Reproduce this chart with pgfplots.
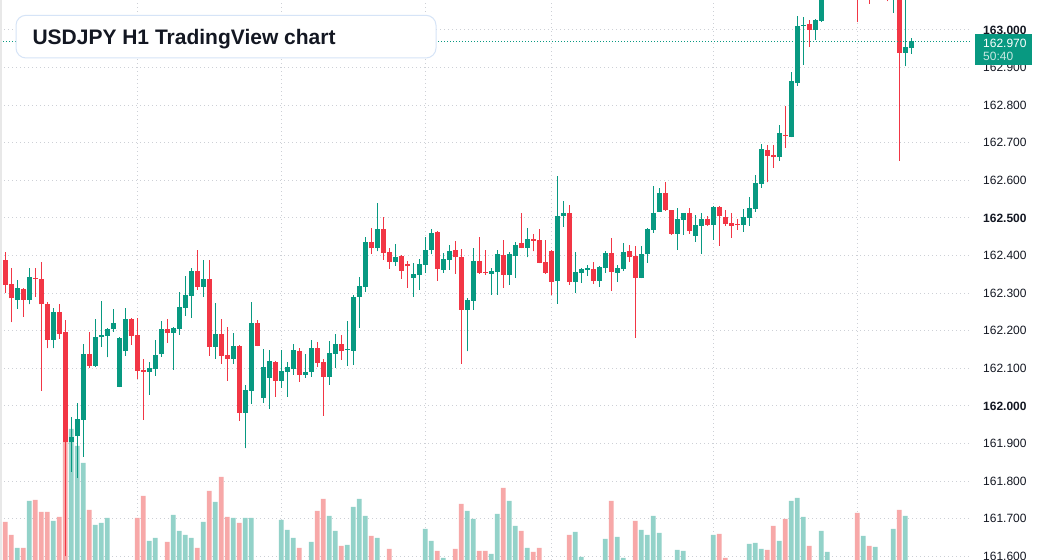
\documentclass[border=0pt]{standalone}
\usepackage{pgfplots}
\pgfplotsset{compat=1.18}
\usepackage{pgfplotstable}
\usepackage{fontspec}
\setmainfont{Liberation Sans}
\definecolor{tvgreen}{HTML}{089981}
\definecolor{tvred}{HTML}{F23645}
\definecolor{volgreen}{HTML}{93D2C9}
\definecolor{volred}{HTML}{F7A8A8}
\definecolor{gridc}{HTML}{CDD0D6}
\definecolor{txt}{HTML}{131722}
\definecolor{boxb}{HTML}{D6E4F7}

% candles: x = bar index, o h l c
\pgfplotstableread{
x o h l c
2 162.282 162.335 162.259 162.314
4 162.283 162.367 162.270 162.343
8 162.176 162.261 162.153 162.250
11 161.903 161.971 161.825 161.918
12 161.921 162.008 161.809 161.965
13 161.964 162.165 161.865 162.138
15 162.107 162.231 162.105 162.184
16 162.183 162.279 162.158 162.189
17 162.187 162.207 162.129 162.205
18 162.206 162.258 162.198 162.221
19 162.051 162.184 162.050 162.181
20 162.145 162.261 162.134 162.231
24 162.091 162.117 162.030 162.101
25 162.099 162.176 162.081 162.136
26 162.137 162.226 162.131 162.205
28 162.195 162.210 162.097 162.207
29 162.205 162.303 162.190 162.263
30 162.261 162.346 162.240 162.295
31 162.293 162.367 162.235 162.359
33 162.317 162.388 162.290 162.338
35 162.158 162.274 162.126 162.192
38 162.126 162.194 162.113 162.160
40 161.982 162.056 161.887 162.043
41 162.041 162.277 162.006 162.221
43 162.022 162.152 162.009 162.105
44 162.075 162.149 161.993 162.120
46 162.067 162.149 162.049 162.094
47 162.091 162.118 162.025 162.105
48 162.099 162.165 162.083 162.149
50 162.083 162.139 162.075 162.090
51 162.091 162.176 162.078 162.154
54 162.078 162.173 162.057 162.141
55 162.139 162.192 162.102 162.165
57 162.149 162.226 162.107 162.152
58 162.147 162.295 162.110 162.290
59 162.291 162.343 162.208 162.319
60 162.317 162.450 162.304 162.436
62 162.419 162.540 162.411 162.471
65 162.384 162.431 162.373 162.396
68 162.341 162.380 162.291 162.351
69 162.349 162.391 162.309 162.378
70 162.376 162.450 162.355 162.415
71 162.416 162.471 162.403 162.460
73 162.363 162.407 162.355 162.391
74 162.389 162.428 162.363 162.412
77 162.256 162.287 162.145 162.282
78 162.280 162.420 162.256 162.386
81 162.352 162.367 162.296 162.360
82 162.357 162.415 162.296 162.404
84 162.349 162.410 162.323 162.404
85 162.400 162.436 162.341 162.428
87 162.421 162.473 162.395 162.444
92 162.333 162.612 162.272 162.505
93 162.504 162.545 162.477 162.513
95 162.331 162.410 162.301 162.356
96 162.355 162.368 162.328 162.364
97 162.363 162.375 162.347 162.364
99 162.333 162.372 162.317 162.370
100 162.368 162.412 162.355 162.407
102 162.355 162.376 162.331 162.367
103 162.365 162.434 162.360 162.410
106 162.341 162.426 162.340 162.404
107 162.403 162.473 162.381 162.471
108 162.469 162.585 162.461 162.513
109 162.517 162.580 162.516 162.567
112 162.458 162.527 162.416 162.497
113 162.496 162.514 162.456 162.513
115 162.453 162.508 162.437 162.481
116 162.480 162.513 162.405 162.497
118 162.482 162.532 162.442 162.529
123 162.482 162.524 162.464 162.503
124 162.501 162.556 162.480 162.527
125 162.524 162.614 162.517 162.593
126 162.591 162.697 162.581 162.684
129 162.661 162.747 162.652 162.726
131 162.716 162.888 162.715 162.864
132 162.860 163.037 162.852 163.010
133 163.011 163.034 162.908 163.013
135 163.001 163.028 162.974 163.027
136 163.025 163.120 163.022 163.100
137 163.100 163.180 163.090 163.160
139 163.140 163.240 163.130 163.220
141 163.180 163.230 163.140 163.200
143 163.120 163.190 163.100 163.170
145 163.110 163.180 163.090 163.150
148 163.100 163.160 163.046 163.140
150 162.940 163.090 162.904 162.955
151 162.953 162.979 162.937 162.970
}\upc

\pgfplotstableread{
x o h l c
0 162.388 162.410 162.301 162.323
1 162.325 162.367 162.223 162.286
3 162.311 162.314 162.238 162.282
5 162.340 162.367 162.291 162.338
6 162.338 162.383 162.041 162.270
7 162.271 162.277 162.153 162.176
9 162.250 162.271 162.179 162.192
10 162.197 162.229 161.601 161.904
14 162.138 162.197 162.102 162.107
21 162.231 162.234 162.163 162.187
22 162.189 162.234 162.073 162.094
23 162.096 162.125 161.964 162.091
27 162.205 162.231 162.168 162.195
32 162.359 162.415 162.309 162.317
34 162.338 162.388 162.134 162.157
36 162.192 162.231 162.113 162.134
37 162.136 162.210 162.067 162.126
39 162.160 162.162 161.961 161.982
42 162.221 162.229 162.159 162.160
45 162.117 162.120 162.025 162.067
49 162.146 162.154 162.065 162.083
52 162.154 162.170 162.105 162.115
53 162.117 162.125 161.974 162.078
56 162.165 162.189 162.123 162.145
61 162.436 162.473 162.405 162.419
63 162.471 162.503 162.389 162.408
64 162.410 162.420 162.365 162.384
66 162.399 162.402 162.339 162.360
67 162.378 162.386 162.315 162.371
72 162.463 162.466 162.333 162.365
75 162.415 162.439 162.352 162.395
76 162.396 162.418 162.113 162.256
79 162.386 162.450 162.352 162.355
80 162.357 162.415 162.349 162.355
83 162.402 162.442 162.315 162.349
86 162.434 162.513 162.420 162.421
88 162.444 162.458 162.411 162.439
89 162.442 162.471 162.380 162.381
90 162.383 162.442 162.352 162.355
91 162.412 162.415 162.294 162.331
94 162.513 162.535 162.323 162.331
98 162.364 162.383 162.325 162.333
101 162.407 162.447 162.307 162.357
104 162.412 162.428 162.384 162.397
105 162.399 162.426 162.182 162.341
110 162.567 162.596 162.519 162.520
111 162.521 162.522 162.456 162.458
114 162.513 162.527 162.458 162.466
117 162.497 162.505 162.480 162.482
119 162.529 162.532 162.426 162.504
120 162.503 162.521 162.480 162.485
121 162.487 162.513 162.448 162.480
122 162.485 162.497 162.469 162.482
127 162.681 162.694 162.595 162.666
128 162.668 162.694 162.633 162.661
130 162.721 162.798 162.687 162.719
134 163.016 163.027 162.955 163.001
138 163.160 163.200 163.120 163.140
140 163.220 163.250 163.150 163.180
142 163.200 163.220 163.021 163.120
144 163.170 163.190 163.070 163.110
146 163.150 163.170 163.100 163.130
147 163.130 163.150 163.077 163.100
149 163.140 163.160 162.652 162.940
}\dnc

% volume (visible height above the pane bottom)
\pgfplotstableread{
x v
2 12
4 59
8 39
11 131
12 114
13 97
15 35
16 37
17 42
24 19
25 22
28 45
29 29
30 25
31 22
33 38
35 58
38 42
40 42
41 42
46 40
47 30
48 22
51 18
54 44
55 29
57 15
58 53
59 61
60 44
62 22
70 31
71 19
73 2
77 49
78 41
81 6
82 46
84 59
85 34
87 12
95 28
96 3
100 21
102 23
103 2
106 30
107 25
108 44
109 27
112 10
113 9
118 25
124 16
125 17
126 11
129 19
131 59
132 62
133 43
136 29
137 8
143 24
145 13
148 31
150 44
}\volup

\pgfplotstableread{
x v
0 38
1 25
3 12
5 60
6 48
7 48
9 43
10 118
14 50
22 42
23 64
27 18
32 12
34 69
36 83
37 43
39 37
49 12
52 49
53 61
56 14
61 24
64 11
72 9
75 11
76 56
79 9
80 9
83 72
86 29
88 8
89 12
94 25
101 59
105 39
119 26
120 2
127 10
128 34
130 41
134 14
142 47
144 14
149 50
}\voldn

% last price
\pgfplotstableread{
x p
-0.8833 162.970
160.7833 162.970
}\lastp

\pgfplotsset{
  base/.style={scale only axis, width=970pt, height=560pt,
    at={(0pt,0pt)}, anchor=south west,
    xmin=-0.8833, xmax=160.7833},
  candle/.style={only marks, mark size=0pt, mark options={draw=none, fill=none},
    error bars/.cd, y dir=plus, y explicit, error mark=none,
    error bar style={#1}},
}

\begin{document}
\begin{tikzpicture}
\path[use as bounding box] (0pt,0pt) rectangle (1037pt,560pt);
\fill[white] (0pt,0pt) rectangle (1037pt,560pt);

% grid and price scale
\begin{axis}[base, ymin=161.5904, ymax=163.0798,
  axis line style={draw=none}, tick style={draw=none},
  xtick={22,46,70,91,118,142}, xticklabels={},
  ytick={161.6,161.7,161.8,161.9,162.0,162.1,162.2,162.3,162.4,162.5,162.6,162.7,162.8,162.9,163.0},
  yticklabels={161.600,161.700,161.800,161.900,\textbf{162.000},162.100,162.200,162.300,162.400,\textbf{162.500},162.600,162.700,162.800,162.900,\textbf{163.000}},
  yticklabel pos=right,
  yticklabel style={anchor=west, inner sep=0pt, xshift=13pt, font=\fontsize{12}{14}\selectfont, text=txt},
  xmajorgrids, ymajorgrids,
  grid style={gridc, line width=1pt, dash pattern=on 1pt off 3pt},
]
\end{axis}

% volume
\begin{axis}[base, hide axis, ymin=0, ymax=560]
\addplot[ybar, bar width=4.7pt, bar shift=0pt, fill=volgreen, draw=none] table[x=x, y=v] {\volup};
\addplot[ybar, bar width=4.7pt, bar shift=0pt, fill=volred, draw=none] table[x=x, y=v] {\voldn};
\end{axis}

% candles
\begin{axis}[base, hide axis, ymin=161.5904, ymax=163.0798]
% wicks
\addplot[candle={tvgreen, line width=1pt}]
  table[x=x, y=l, y error expr=\thisrow{h}-\thisrow{l}] {\upc};
\addplot[candle={tvred, line width=1pt}]
  table[x=x, y=l, y error expr=\thisrow{h}-\thisrow{l}] {\dnc};
% bodies
\addplot[candle={tvgreen, line width=4.7pt}]
  table[x=x, y=o, y error expr={max(\thisrow{c}-\thisrow{o},0.0027)}] {\upc};
\addplot[candle={tvred, line width=4.7pt}]
  table[x=x, y=c, y error expr={max(\thisrow{o}-\thisrow{c},0.0027)}] {\dnc};
% last price line
\addplot[color=tvgreen, line width=1.1pt, dash pattern=on 1.2pt off 1.8pt, mark=none] table[x=x, y=p] {\lastp};
\end{axis}

% left border strip
\fill[black!9] (0pt,0pt) rectangle (2pt,560pt);

% last price label
\fill[tvgreen] (975pt,495pt) rectangle (1032pt,526pt);
\node[anchor=west, inner sep=0pt, text=white, font=\fontsize{12}{14}\selectfont] at (983pt,517pt) {162.970};
\node[anchor=west, inner sep=0pt, text=white!78!tvgreen, font=\fontsize{12}{14}\selectfont] at (983pt,503.5pt) {50:40};

% title box
\draw[boxb, line width=1pt, fill=white, rounded corners=10pt] (16pt,502pt) rectangle (436pt,544.7pt);
\node[anchor=base west, inner sep=0pt, text=txt, font=\bfseries\fontsize{21}{24}\selectfont] at (32.3pt,515.7pt) {USDJPY H1 TradingView chart};
\end{tikzpicture}
\end{document}
